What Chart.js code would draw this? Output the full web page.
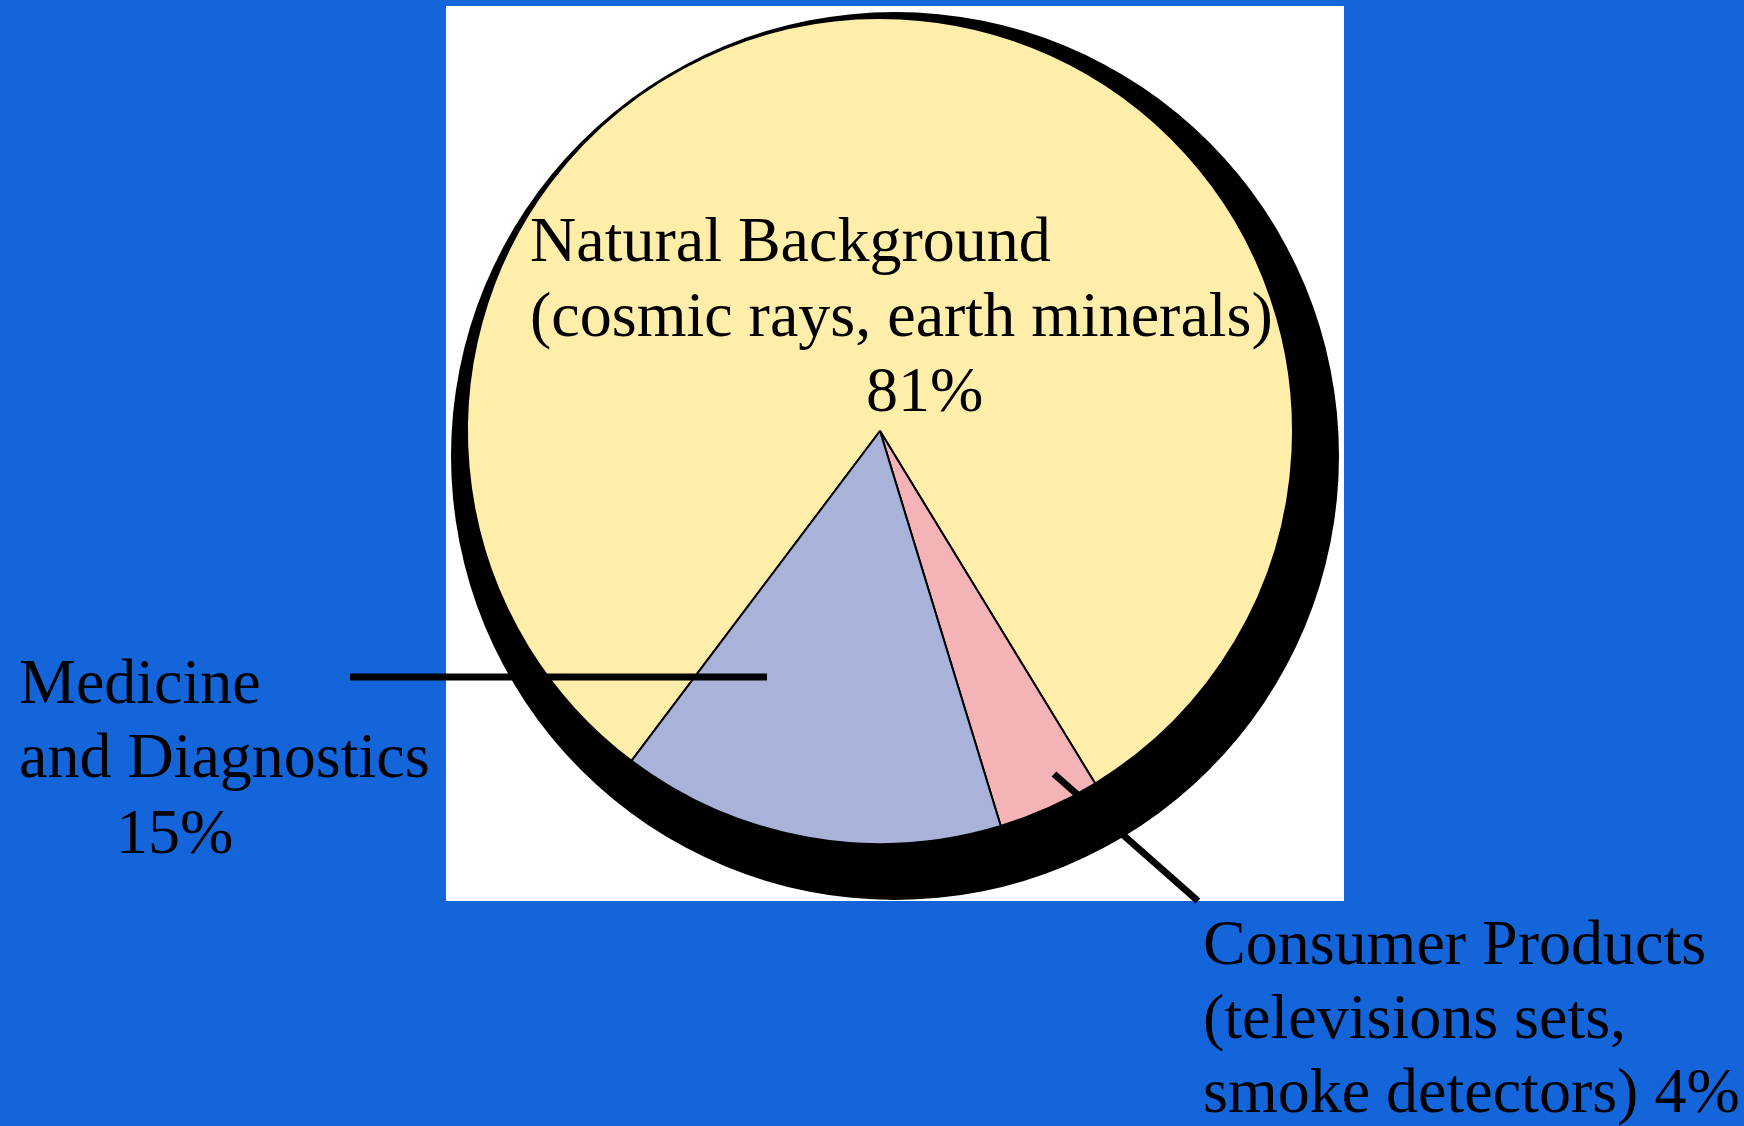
<!DOCTYPE html>
<html>
<head>
<meta charset="utf-8">
<script src="https://cdn.jsdelivr.net/npm/chart.js@4.4.1/dist/chart.umd.min.js"></script>
<style>
    html, body { margin: 0; padding: 0; background: #1565da; overflow: hidden; }
    #wrap { position: relative; width: 1744px; height: 1126px; }
</style>
</head>
<body>
<div id="wrap"><canvas id="doseChart" width="1744" height="1126"></canvas></div>
<script>
// Data
const categories = ['Natural Background', 'Consumer Products', 'Medicine and Diagnostics'];
const shares = [81, 4, 15];
const sliceColors = ['#ffedaa', '#f4b3b7', '#a9b3da'];
const labelLines = [
    ['Natural Background', '(cosmic rays, earth minerals)', '81%'],
    ['Consumer Products', '(televisions sets,', 'smoke detectors) 4%'],
    ['Medicine', 'and Diagnostics', '15%']
];

// Where each label line sits (left x, baseline y)
const labelPos = [
    [[530, 261], [530, 336], [866, 411]],
    [[1203, 964], [1203, 1038], [1203, 1112]],
    [[19, 703], [19, 777], [116, 853]]
];
// leader lines
const leaders = [
    null,
    [1054, 774, 1198, 901],
    [350, 677, 767, 677]
];

// white card + dark rim drawn behind the pie
const backdrop = {
    id: 'backdrop',
    beforeDatasetsDraw(chart) {
        const ctx = chart.ctx;
        const arc = chart.getDatasetMeta(0).data[0];
        ctx.save();
        ctx.fillStyle = '#ffffff';
        ctx.fillRect(446, 6, 898, 895);
        ctx.beginPath();
        ctx.rect(446, 6, 898, 895);
        ctx.clip();
        ctx.fillStyle = '#000000';
        ctx.beginPath();
        ctx.arc(arc.x + 15, arc.y + 25, arc.outerRadius + 31, 0, Math.PI * 2);
        ctx.fill();
        ctx.restore();
    }
};

const labels = {
    id: 'labels',
    afterDatasetsDraw(chart) {
        const ctx = chart.ctx;
        ctx.save();
        ctx.strokeStyle = '#000';
        ctx.lineWidth = 7;
        leaders.forEach(l => {
            if (!l) return;
            ctx.beginPath();
            ctx.moveTo(l[0], l[1]);
            ctx.lineTo(l[2], l[3]);
            ctx.stroke();
        });
        ctx.fillStyle = '#000';
        ctx.font = '64px "Liberation Serif", "Times New Roman", serif';
        ctx.textAlign = 'left';
        ctx.textBaseline = 'alphabetic';
        labelLines.forEach((lines, i) => {
            lines.forEach((txt, j) => {
                ctx.fillText(txt, labelPos[i][j][0], labelPos[i][j][1]);
            });
        });
        ctx.restore();
    }
};

const ctx = document.getElementById('doseChart').getContext('2d');
const doseChart = new Chart(ctx, {
    type: 'pie',
    data: {
        labels: categories,
        datasets: [{
            data: shares,
            backgroundColor: sliceColors,
            borderColor: '#000000',
            borderWidth: 2
        }]
    },
    options: {
        responsive: false,
        animation: false,
        rotation: 217,
        layout: {
            padding: { left: 466, right: 450, top: 17, bottom: 281 }
        },
        plugins: {
            legend: { display: false },
            tooltip: { enabled: false }
        }
    },
    plugins: [backdrop, labels]
});
</script>
</body>
</html>
